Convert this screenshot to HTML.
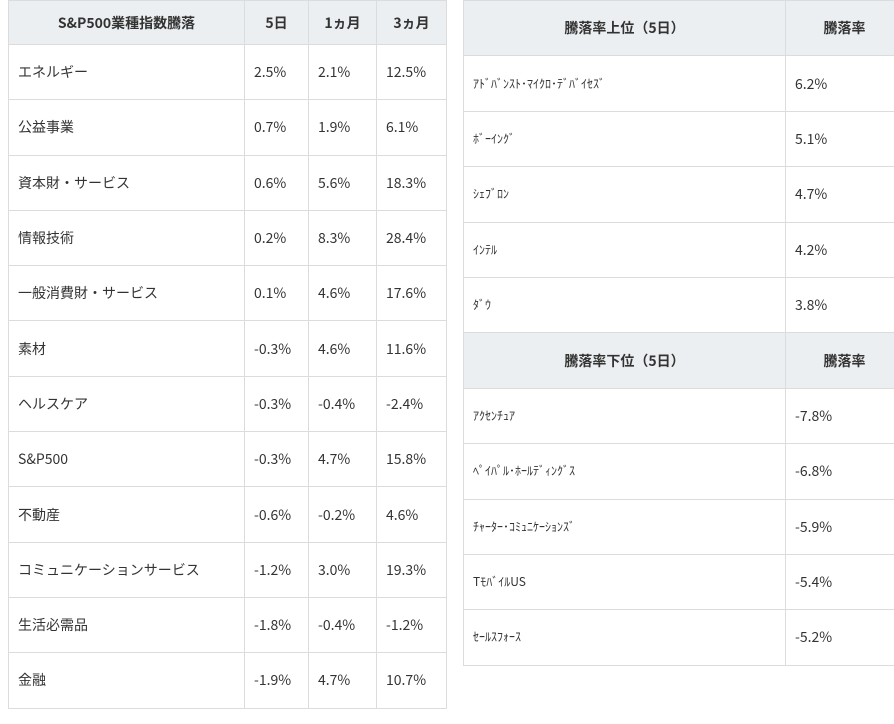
<!DOCTYPE html>
<html><head><meta charset="utf-8"><style>
body{margin:0;width:894px;height:724px;background:#fff;font-family:"Noto Sans CJK JP",sans-serif;color:#333;position:relative;overflow:hidden}
table{position:absolute;border-collapse:collapse;table-layout:fixed}
td,th{border:1px solid #dcdcdc;padding:0 0 0 9px;text-align:left;font-size:14px;font-weight:normal;line-height:1}
th{background:#eceff1;font-weight:bold;text-align:center;padding:0;font-size:14px}
.r td{font-size:12px}
.r td+td{font-size:14px}
</style></head><body>
<table style="left:8px;top:0;width:438px">
<colgroup><col style="width:236px"><col style="width:64px"><col style="width:68px"><col style="width:70px"></colgroup>
<tr style="height:44px"><th>S&amp;P500業種指数騰落</th><th>5日</th><th>1ヵ月</th><th>3ヵ月</th></tr>
<tr style="height:55.3px"><td>エネルギー</td><td>2.5%</td><td>2.1%</td><td>12.5%</td></tr>
<tr style="height:55.3px"><td>公益事業</td><td>0.7%</td><td>1.9%</td><td>6.1%</td></tr>
<tr style="height:55.3px"><td>資本財・サービス</td><td>0.6%</td><td>5.6%</td><td>18.3%</td></tr>
<tr style="height:55.3px"><td>情報技術</td><td>0.2%</td><td>8.3%</td><td>28.4%</td></tr>
<tr style="height:55.3px"><td>一般消費財・サービス</td><td>0.1%</td><td>4.6%</td><td>17.6%</td></tr>
<tr style="height:55.3px"><td>素材</td><td>-0.3%</td><td>4.6%</td><td>11.6%</td></tr>
<tr style="height:55.3px"><td>ヘルスケア</td><td>-0.3%</td><td>-0.4%</td><td>-2.4%</td></tr>
<tr style="height:55.3px"><td>S&amp;P500</td><td>-0.3%</td><td>4.7%</td><td>15.8%</td></tr>
<tr style="height:55.3px"><td>不動産</td><td>-0.6%</td><td>-0.2%</td><td>4.6%</td></tr>
<tr style="height:55.3px"><td>コミュニケーションサービス</td><td>-1.2%</td><td>3.0%</td><td>19.3%</td></tr>
<tr style="height:55.3px"><td>生活必需品</td><td>-1.8%</td><td>-0.4%</td><td>-1.2%</td></tr>
<tr style="height:55.3px"><td>金融</td><td>-1.9%</td><td>4.7%</td><td>10.7%</td></tr>
</table>
<table class="r" style="left:463px;top:0;width:440px">
<colgroup><col style="width:322px"><col style="width:118px"></colgroup>
<tr style="height:55.4px"><th>騰落率上位（5日）</th><th>騰落率</th></tr>
<tr style="height:55.4px"><td>ｱﾄﾞﾊﾞﾝｽﾄ･ﾏｲｸﾛ･ﾃﾞﾊﾞｲｾｽﾞ</td><td>6.2%</td></tr>
<tr style="height:55.4px"><td>ﾎﾞｰｲﾝｸﾞ</td><td>5.1%</td></tr>
<tr style="height:55.4px"><td>ｼｪﾌﾞﾛﾝ</td><td>4.7%</td></tr>
<tr style="height:55.4px"><td>ｲﾝﾃﾙ</td><td>4.2%</td></tr>
<tr style="height:55.4px"><td>ﾀﾞｳ</td><td>3.8%</td></tr>
<tr style="height:55.4px"><th>騰落率下位（5日）</th><th>騰落率</th></tr>
<tr style="height:55.4px"><td>ｱｸｾﾝﾁｭｱ</td><td>-7.8%</td></tr>
<tr style="height:55.4px"><td>ﾍﾟｲﾊﾟﾙ･ﾎｰﾙﾃﾞｨﾝｸﾞｽ</td><td>-6.8%</td></tr>
<tr style="height:55.4px"><td>ﾁｬｰﾀｰ･ｺﾐｭﾆｹｰｼｮﾝｽﾞ</td><td>-5.9%</td></tr>
<tr style="height:55.4px"><td>TﾓﾊﾞｲﾙUS</td><td>-5.4%</td></tr>
<tr style="height:55.4px"><td>ｾｰﾙｽﾌｫｰｽ</td><td>-5.2%</td></tr>
</table>
</body></html>
